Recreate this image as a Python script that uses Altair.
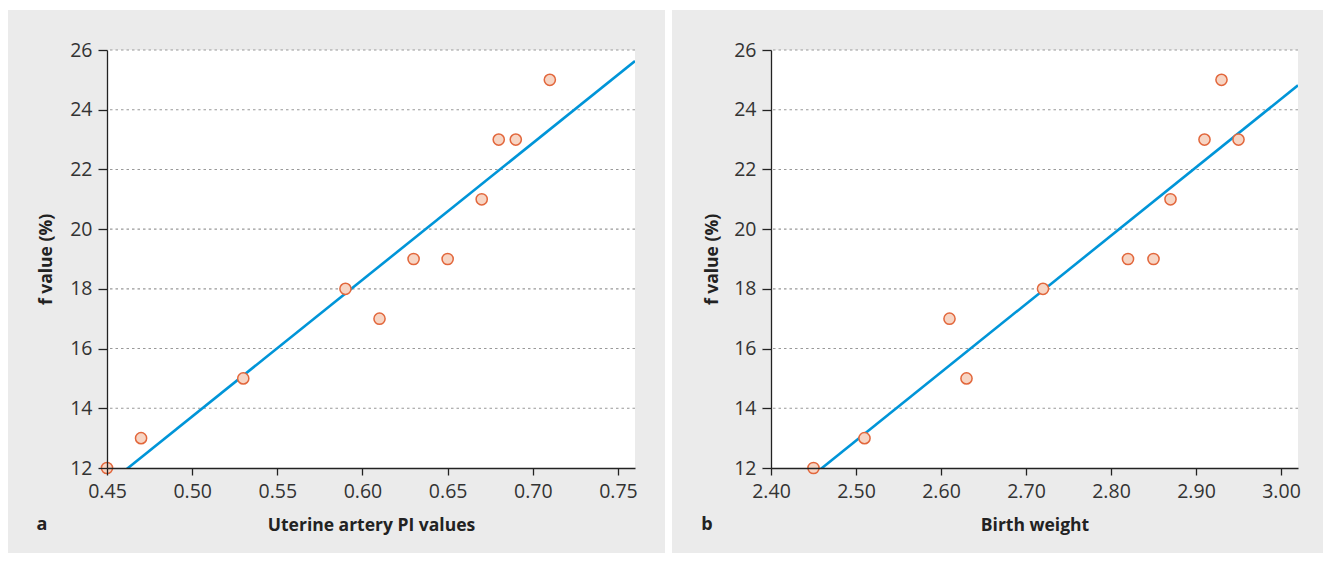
import altair as alt
import pandas as pd

# ---- data ----
left_x = [0.45, 0.47, 0.53, 0.59, 0.61, 0.63, 0.65, 0.67, 0.68, 0.69, 0.71]
left_y = [12, 13, 15, 18, 17, 19, 19, 21, 23, 23, 25]
right_x = [2.45, 2.51, 2.61, 2.63, 2.72, 2.82, 2.85, 2.87, 2.91, 2.93, 2.95]
right_y = [12, 13, 17, 15, 18, 19, 19, 21, 23, 25, 23]

y_ticks = [12, 14, 16, 18, 20, 22, 24, 26]
left_ticks = [0.45, 0.50, 0.55, 0.60, 0.65, 0.70, 0.75]
right_ticks = [2.40, 2.50, 2.60, 2.70, 2.80, 2.90, 3.00]
left_domain = [0.45, 0.76]
right_domain = [2.40, 3.02]
y_domain = [12, 26]

FONT = "Open Sans"
GREY = "#ebebeb"
BLUE = "#0095d8"
PT_FILL = "#f7d5c4"
PT_STROKE = "#e2673c"
H = 418


def panel(xs, ys, xticks, xdom, xtitle, letter, width, ytitle_x, letter_x, right_ext):
    df = pd.DataFrame({"x": xs, "y": ys})
    one = alt.Data(values=[{"k": 0}])
    xscale = alt.Scale(domain=xdom, nice=False, zero=False)
    yscale = alt.Scale(domain=y_domain, nice=False, zero=False)
    xaxis = alt.Axis(values=xticks, format=".2f", title=xtitle, grid=False, zindex=1,
                     tickSize=7, labelPadding=7, titleX=width / 2, titleY=57,
                     titleBaseline="middle", titleAlign="center", labelFlush=False)
    yaxis = alt.Axis(values=y_ticks, title="f value (%)", grid=False, zindex=1,
                     tickSize=9, labelPadding=6, titleX=ytitle_x, titleY=H / 2,
                     titleAngle=-90, titleAlign="center", titleBaseline="middle")

    panel_bg = alt.Chart(one).mark_rect(color=GREY).encode(
        x=alt.value(-99), x2=alt.value(width + right_ext), y=alt.value(-40), y2=alt.value(H + 85))
    plot_bg = alt.Chart(one).mark_rect(color="white").encode(
        x=alt.value(0), x2=alt.value(width), y=alt.value(0), y2=alt.value(H))
    grid = alt.Chart(pd.DataFrame({"g": y_ticks[1:]})).mark_rule(
        color="#999999", strokeDash=[2.5, 3], strokeWidth=1.1).encode(
        y=alt.Y("g:Q", scale=yscale, axis=yaxis))
    line = alt.Chart(df).transform_regression("x", "y", extent=xdom).mark_line(
        color=BLUE, strokeWidth=2.6, clip=True).encode(
        x=alt.X("x:Q", scale=xscale, axis=xaxis),
        y=alt.Y("y:Q", scale=yscale, axis=yaxis))
    pts = alt.Chart(df).mark_circle(size=125, fill=PT_FILL, stroke=PT_STROKE,
                                     strokeWidth=1.5, opacity=1).encode(
        x=alt.X("x:Q", scale=xscale, axis=xaxis),
        y=alt.Y("y:Q", scale=yscale, axis=yaxis))
    lab = alt.Chart(one).mark_text(text=letter, font=FONT, fontWeight="bold", fontSize=18,
                                   color="#222", align="center", baseline="middle").encode(
        x=alt.value(letter_x), y=alt.value(H + 57))
    return alt.layer(panel_bg, plot_bg, grid, line, pts, lab).properties(width=width, height=H)


left = panel(left_x, left_y, left_ticks, left_domain, "Uterine artery PI values", "a", 528, -61, -65, 30)
right = panel(right_x, right_y, right_ticks, right_domain, "Birth weight", "b", 527, -59, -64, 25)

chart = alt.hconcat(left, right, spacing=7).properties(
    padding={"left": 0, "top": 2, "right": 0, "bottom": 0}
).configure(background="white").configure_view(stroke=None).configure_axis(
    domainColor="#222", tickColor="#222", domainWidth=1.3, tickWidth=1.3,
    labelFont=FONT, labelFontSize=19.5, labelColor="#333",
    titleFont=FONT, titleFontSize=17.5, titleFontWeight="bold", titleColor="#222")

chart.save("out.html", embed_options={"renderer": "svg", "actions": False})
